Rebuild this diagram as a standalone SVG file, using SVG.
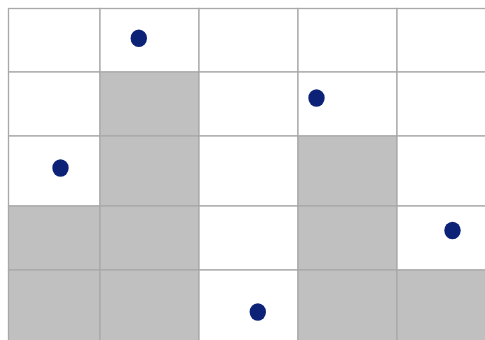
<svg xmlns="http://www.w3.org/2000/svg" width="485" height="340" viewBox="0 0 485 340">
<style>
.w{fill:#ffffff;stroke:#a9a9a9;stroke-width:1.3}
.g{fill:#c0c0c0;stroke:#a9a9a9;stroke-width:1.3}
.d{fill:#0c2277}
</style>
<rect width="485" height="340" fill="#ffffff"/>
<g id="grid">
<rect class="w" x="8.5" y="8.5" width="91.5" height="63.5"/>
<rect class="w" x="100" y="8.5" width="99" height="63.5"/>
<rect class="w" x="199" y="8.5" width="99" height="63.5"/>
<rect class="w" x="298" y="8.5" width="99" height="63.5"/>
<rect class="w" x="397" y="8.5" width="99" height="63.5"/>
<rect class="w" x="8.5" y="72" width="91.5" height="64"/>
<rect class="g" x="100" y="72" width="99" height="64"/>
<rect class="w" x="199" y="72" width="99" height="64"/>
<rect class="w" x="298" y="72" width="99" height="64"/>
<rect class="w" x="397" y="72" width="99" height="64"/>
<rect class="w" x="8.5" y="136" width="91.5" height="70"/>
<rect class="g" x="100" y="136" width="99" height="70"/>
<rect class="w" x="199" y="136" width="99" height="70"/>
<rect class="g" x="298" y="136" width="99" height="70"/>
<rect class="w" x="397" y="136" width="99" height="70"/>
<rect class="g" x="8.5" y="206" width="91.5" height="64"/>
<rect class="g" x="100" y="206" width="99" height="64"/>
<rect class="w" x="199" y="206" width="99" height="64"/>
<rect class="g" x="298" y="206" width="99" height="64"/>
<rect class="w" x="397" y="206" width="99" height="64"/>
<rect class="g" x="8.5" y="270" width="91.5" height="80"/>
<rect class="g" x="100" y="270" width="99" height="80"/>
<rect class="w" x="199" y="270" width="99" height="80"/>
<rect class="g" x="298" y="270" width="99" height="80"/>
<rect class="g" x="397" y="270" width="99" height="80"/>
</g>
<g id="dots">
<ellipse class="d" cx="138.8" cy="38.3" rx="8.2" ry="8.8"/>
<ellipse class="d" cx="316.5" cy="98" rx="8.2" ry="8.8"/>
<ellipse class="d" cx="60.5" cy="168" rx="8.2" ry="8.8"/>
<ellipse class="d" cx="452.5" cy="230.5" rx="8.2" ry="8.8"/>
<ellipse class="d" cx="257.8" cy="312" rx="8.2" ry="8.8"/>
</g>
</svg>
